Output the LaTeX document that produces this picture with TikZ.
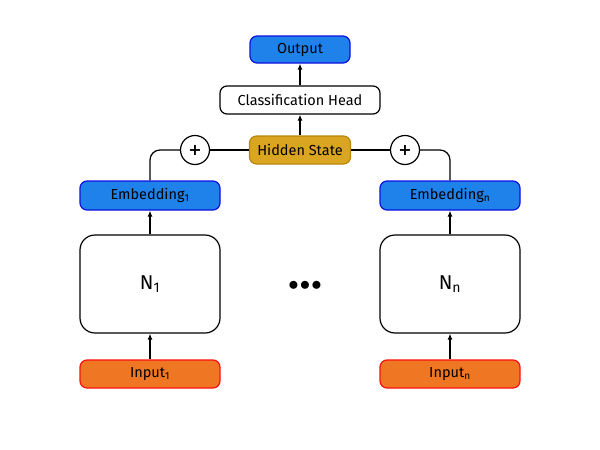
\documentclass[tikz,border=0pt]{standalone}
\usepackage{fontspec}
\setmainfont{Fira Sans}
\newfontfamily\plusfont{DejaVu Sans}
\usetikzlibrary{arrows.meta}
\definecolor{bluefill}{HTML}{1E82EA}
\definecolor{blueline}{HTML}{1010E0}
\definecolor{goldfill}{HTML}{DAA520}
\definecolor{goldline}{HTML}{B8860B}
\definecolor{orangefill}{HTML}{EF7622}
\definecolor{redline}{HTML}{FF1010}
\begin{document}
\begin{tikzpicture}[x=1pt,y=-1pt,
  box/.style={draw,line width=1.2pt,rounded corners=7pt,minimum width=140pt,minimum height=28pt,inner sep=0pt,font=\fontsize{14.5}{16}\selectfont},
  bluebox/.style={box,fill=bluefill,draw=blueline},
  inbox/.style={box,fill=orangefill,draw=redline},
  bigbox/.style={draw,line width=1.2pt,rounded corners=15pt,minimum width=140pt,minimum height=98pt,font=\fontsize{20}{22}\selectfont},
  plusnode/.style={draw,circle,line width=1.2pt,minimum size=29pt,inner sep=0pt,fill=white,font=\plusfont\bfseries\fontsize{16}{16}\selectfont},
  arr/.style={line width=1.2pt,-{Latex[length=6pt,width=5pt]}},
  ln/.style={line width=1.2pt}]
\useasboundingbox (0,0) rectangle (600,450);
\node[bluebox,minimum width=100pt,minimum height=27pt] (out) at (300,49.5) {Output};
\node[box,minimum width=160pt] (head) at (300,100) {Classification Head};
\node[box,fill=goldfill,draw=goldline,minimum width=101pt] (hid) at (300,150) {Hidden State};
\node[plusnode] (p1) at (195,150) {+};
\node[plusnode] (p2) at (405,150) {+};
\node[bluebox,minimum height=29pt] (e1) at (150,195.5) {Embedding\textsubscript{1}};
\node[bluebox,minimum height=29pt] (en) at (450,195.5) {Embedding\textsubscript{n}};
\node[bigbox] (n1) at (150,284) {N\textsubscript{1}};
\node[bigbox] (nn) at (450,284) {N\textsubscript{n}};
\node[inbox] (i1) at (150,374) {Input\textsubscript{1}};
\node[inbox] (in) at (450,374) {Input\textsubscript{n}};
\node[font=\fontsize{20}{20}\selectfont] (dots) at (305,286) {$\bullet\!\bullet\!\bullet$};
\draw[arr] (i1) -- (n1);
\draw[arr] (in) -- (nn);
\draw[arr] (n1) -- (e1);
\draw[arr] (nn) -- (en);
\draw[ln,rounded corners=10pt] (e1.north) |- (p1.west);
\draw[ln,rounded corners=10pt] (en.north) |- (p2.east);
\draw[ln] (p1) -- (hid);
\draw[ln] (p2) -- (hid);
\draw[arr] (hid) -- (head);
\draw[arr] (head) -- (out);
\end{tikzpicture}
\end{document}
